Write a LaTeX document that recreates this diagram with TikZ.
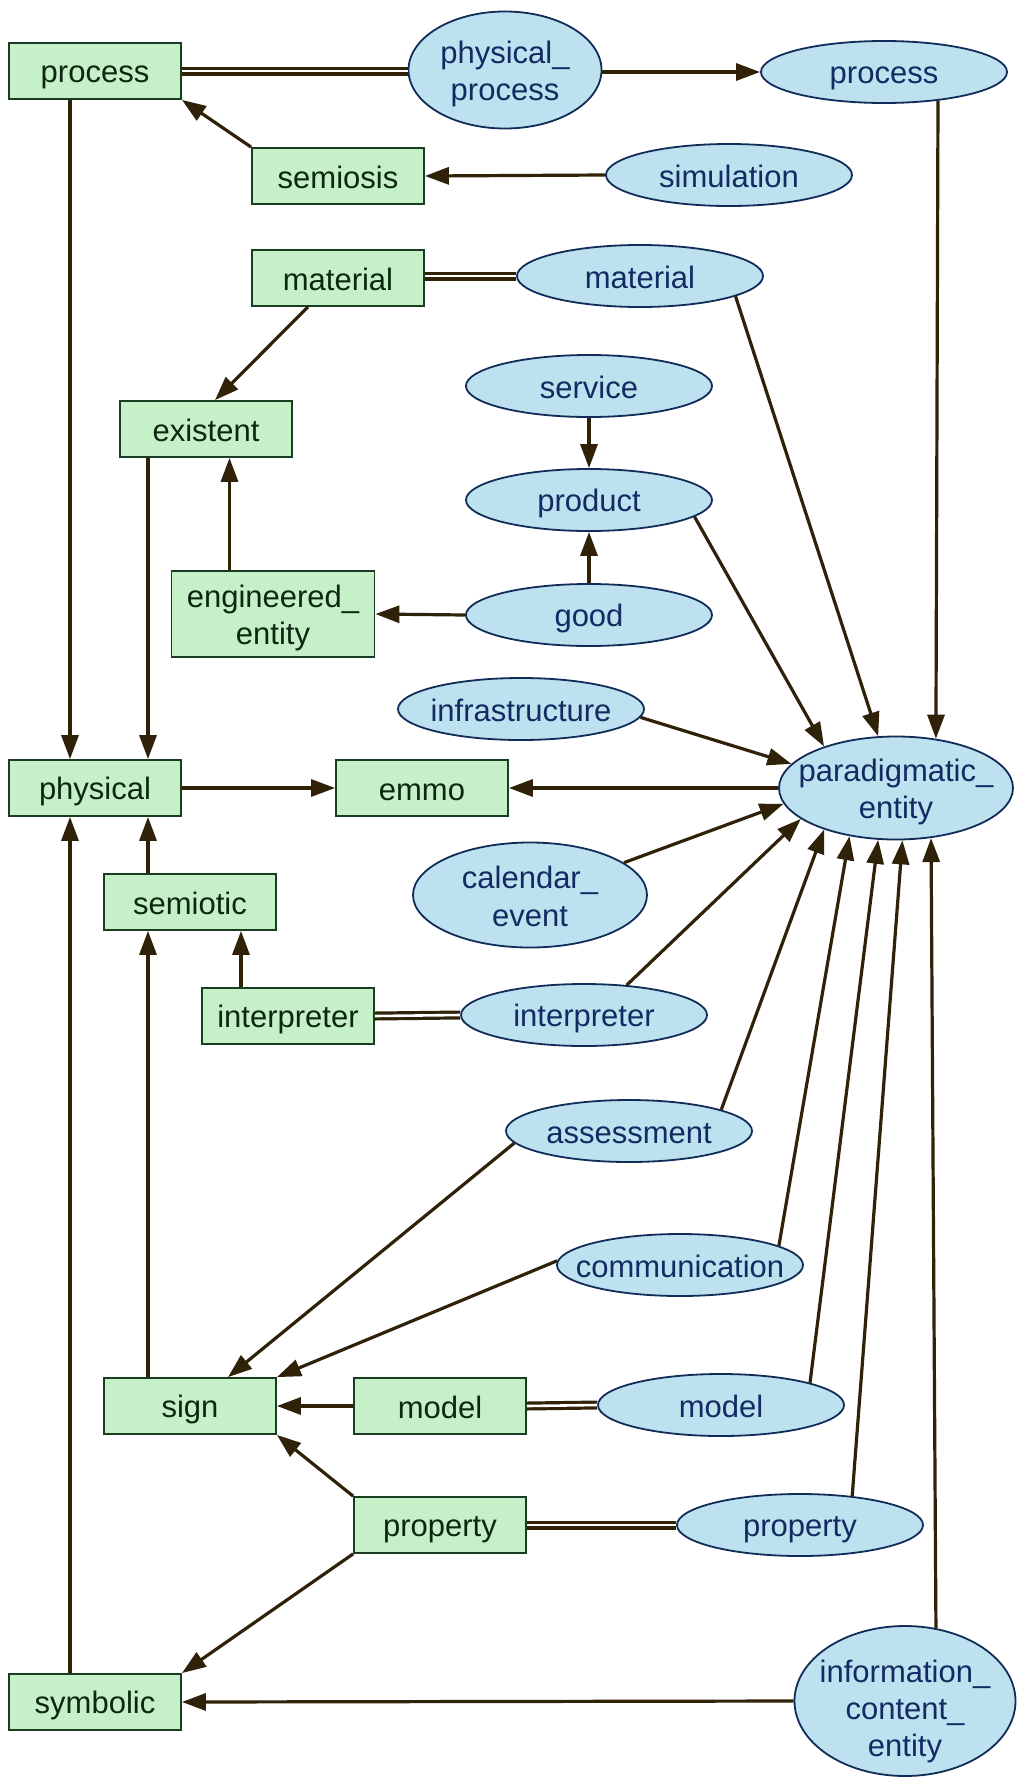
\documentclass[tikz,border=0pt]{standalone}
\usepackage{fontspec}
\setmainfont{Liberation Sans}
\usetikzlibrary{shapes.geometric,arrows.meta}

\definecolor{boxfill}{RGB}{198,240,200}
\definecolor{boxline}{RGB}{26,60,34}
\definecolor{boxtext}{RGB}{12,40,16}
\definecolor{entfill}{RGB}{189,225,239}
\definecolor{entline}{RGB}{18,44,90}
\definecolor{enttext}{RGB}{16,44,98}
\definecolor{edgecol}{RGB}{48,34,8}

% uniform line box so every text line sits at the same place
\newcommand{\ls}{\rule[-5pt]{0pt}{35pt}}

\begin{document}
\begin{tikzpicture}[x=1pt,y=-1pt,
  labelfont/.style={font=\fontsize{31}{35}\selectfont},
  box/.style={rectangle, draw=boxline, fill=boxfill, line width=1.8pt,
    minimum width=172pt, minimum height=56pt, inner sep=0pt,
    text=boxtext, labelfont, align=center},
  ent/.style={ellipse, draw=entline, fill=entfill, line width=1.8pt,
    minimum width=246pt, minimum height=62pt, inner sep=0pt},
  entlabel/.style={text=enttext, labelfont, align=center, inner sep=0pt},
  isa/.style={draw=edgecol, line width=3.2pt,
    -{Triangle[length=24pt,width=17pt]}},
  same/.style={draw=edgecol, line width=3.2pt, double=white, double distance=2.6pt}]

\fill[white] (0,0) rectangle (1024,1791);
\useasboundingbox (0,0) rectangle (1024,1791);

% ---------- class nodes (boxes) ----------
\node[box] (pr)       at (95,71)    {process\ls};
\node[box] (semiosis) at (338,176)  {semiosis\ls};
\node[box] (matR)     at (338,278)  {material\ls};
\node[box] (existent) at (206,429)  {existent\ls};
\node[box, minimum width=203pt, minimum height=86pt] (eng) at (273,614) {engineered\_\ls\\entity\ls};
\node[box] (physical) at (95,788)   {physical\ls};
\node[box] (emmo)     at (422,788)  {emmo\ls};
\node[box] (semiotic) at (190,902)  {semiotic\ls};
\node[box] (interpR)  at (288,1016) {interpreter\ls};
\node[box] (sign)     at (190,1406) {sign\ls};
\node[box] (modelR)   at (440,1406) {model\ls};
\node[box] (propR)    at (440,1525) {property\ls};
\node[box] (symbolic) at (95,1702)  {symbolic\ls};

% ---------- entity nodes (ellipses) ----------
\node[ent, minimum width=193pt, minimum height=117pt,
  label={[entlabel]center:physical\_\ls\\process\ls}] (ppE) at (505,70) {};
\node[ent, label={[entlabel]center:process\ls}]        (procE)   at (884,72)   {};
\node[ent, label={[entlabel]center:simulation\ls}]     (simE)    at (729,175)  {};
\node[ent, label={[entlabel]center:material\ls}]       (matE)    at (640,276)  {};
\node[ent, label={[entlabel]center:service\ls}]        (servE)   at (589,386)  {};
\node[ent, label={[entlabel]center:product\ls}]        (prodE)   at (589,500)  {};
\node[ent, label={[entlabel]center:good\ls}]           (goodE)   at (589,615)  {};
\node[ent, label={[entlabel]center:infrastructure\ls}] (infraE)  at (521,709)  {};
\node[ent, minimum width=234pt, minimum height=103pt,
  label={[entlabel]center:paradigmatic\_\ls\\entity\ls}] (parE) at (896,788) {};
\node[ent, minimum width=234pt, minimum height=105pt,
  label={[entlabel]center:calendar\_\ls\\event\ls}] (calE) at (530,895) {};
\node[ent, label={[entlabel]center:interpreter\ls}]    (interpE) at (584,1015) {};
\node[ent, label={[entlabel]center:assessment\ls}]     (assessE) at (629,1131) {};
\node[ent, label={[entlabel]center:communication\ls}]  (commE)   at (680,1265) {};
\node[ent, label={[entlabel]center:model\ls}]          (modelE)  at (721,1405) {};
\node[ent, label={[entlabel]center:property\ls}]       (propE)   at (800,1525) {};
\node[ent, minimum width=221pt, minimum height=150pt,
  label={[entlabel, yshift=-7pt]center:information\_\ls\\content\_\ls\\entity\ls}] (iceE) at (905,1701) {};

% ---------- equivalences ----------
\draw[same] (pr.east)      -- (ppE.west |- pr.east);
\draw[same] (matR.east |- matE.west) -- (matE.west);
\draw[same] (interpR.east) -- (interpE.west);
\draw[same] (modelR.east)  -- (modelE.west);
\draw[same] (propR.east)   -- (propE.west);

% ---------- subclass relations ----------
\draw[isa] (ppE.east |- procE.west) -- (procE.west);
\draw[isa] (semiosis.north west) -- (pr.south east);
\draw[isa] (simE.west) -- (semiosis.east);
\draw[isa] ([xshift=-25pt]pr.south) -- ([xshift=-25pt]physical.north);
\draw[isa] (procE.-28.7) -- (parE.51.8);

\draw[isa] ([xshift=-30pt]matR.south) -- ([xshift=9pt]existent.north);
\draw[isa] (matE.-12.9) -- (parE.109.3);
\draw[isa] ([xshift=-58pt]existent.south) -- ([xshift=53pt]physical.north);
\draw[isa] ([xshift=-43.5pt]eng.north) -- ([xshift=23.5pt]existent.south);
\draw[isa] (servE.south) -- (prodE.north);
\draw[isa] (goodE.north) -- (prodE.south);
\draw[isa] (goodE.west) -- (eng.east);
\draw[isa] (prodE.-9.5) -- (parE.150.1);
\draw[isa] (infraE.-4.8) -- (parE.167.7);

\draw[isa] (physical.east) -- (emmo.west);
\draw[isa] (parE.west) -- (emmo.east);
\draw[isa] (calE.19) -- (parE.-172.7);
\draw[isa] ([xshift=-42pt]semiotic.north) -- ([xshift=53pt]physical.south);
\draw[isa] ([xshift=-47pt]interpR.north) -- ([xshift=51pt]semiotic.south);
\draw[isa] (interpE.35) -- (parE.-162.2);

\draw[isa] (assessE.13) -- (parE.-150.2);
\draw[isa] (assessE.-174.5) -- ([xshift=38pt]sign.north);
\draw[isa] (commE.11.4) -- (parE.-134.1);
\draw[isa] (commE.178) -- (sign.north east);
\draw[isa] ([xshift=-42pt]sign.north) -- ([xshift=-42pt]semiotic.south);
\draw[isa] (modelR.west) -- (sign.east);
\draw[isa] (modelE.14.3) -- (parE.-109.6);
\draw[isa] (propR.north west) -- (sign.south east);
\draw[isa] (propR.south west) -- (symbolic.north east);
\draw[isa] (propE.29.5) -- (parE.-83.6);
\draw[isa] (iceE.67.4) -- (parE.-55.3);
\draw[isa] (iceE.west) -- (symbolic.east);
\draw[isa] ([xshift=-25pt]symbolic.north) -- ([xshift=-25pt]physical.south);

\end{tikzpicture}
\end{document}
